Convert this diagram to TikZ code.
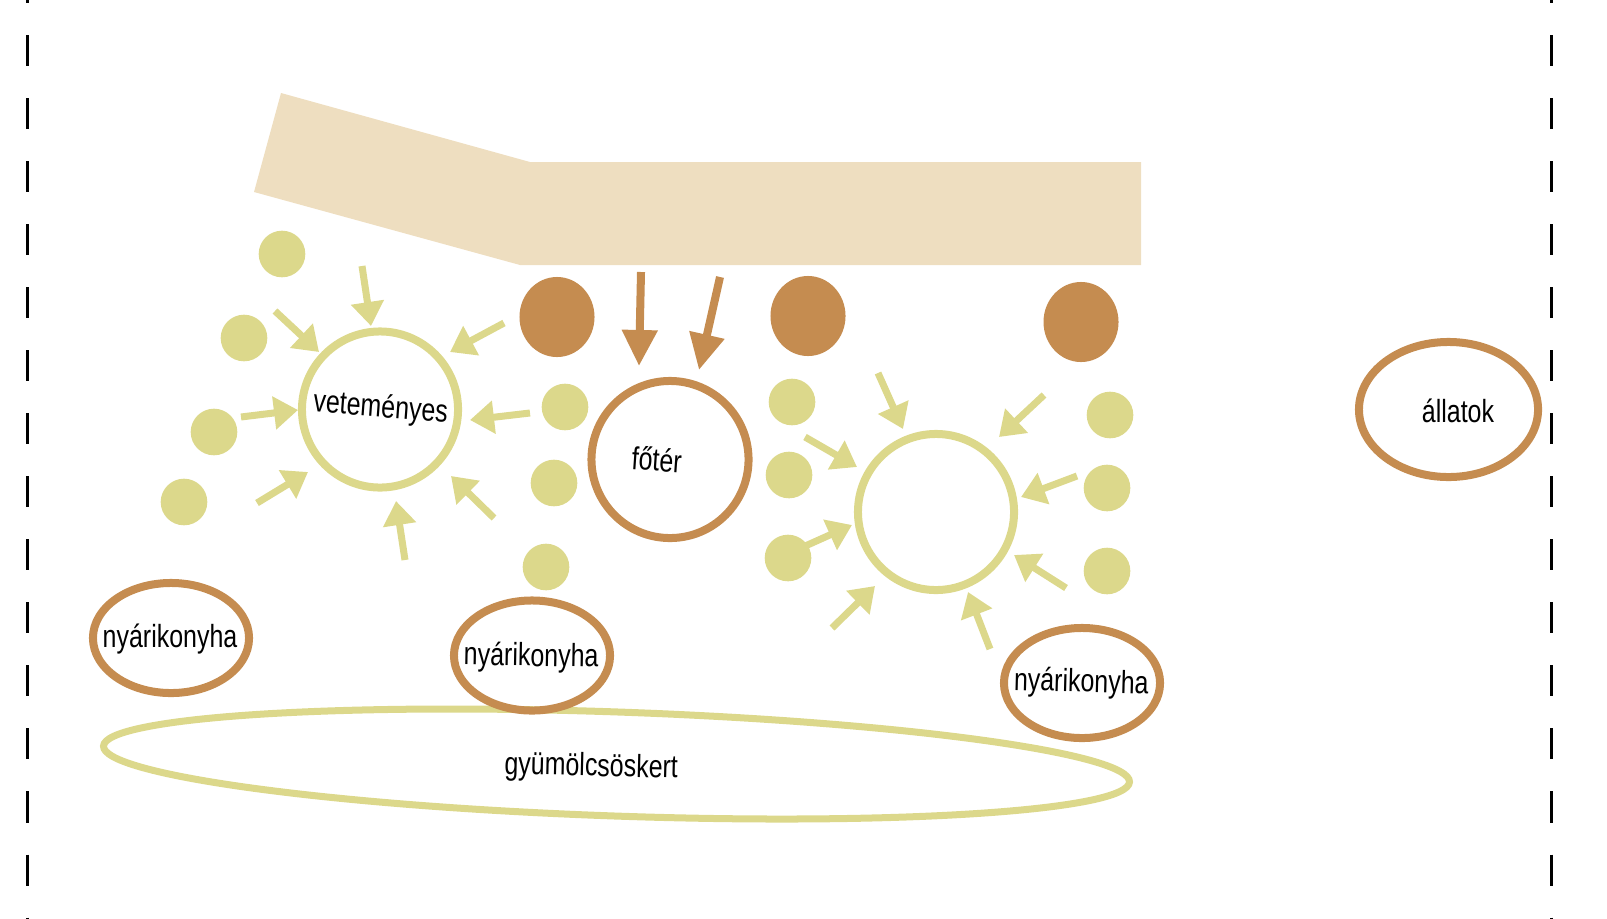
\documentclass[tikz,border=0pt]{standalone}
\usepackage{fontspec}
\setmainfont{Liberation Sans}[FakeStretch=0.78]
\usetikzlibrary{arrows.meta}
\usetikzlibrary{shapes.geometric}

\definecolor{leafgreen}{RGB}{220,216,139}
\definecolor{soilbrown}{RGB}{197,140,80}
\definecolor{roadbeige}{RGB}{238,222,192}

\begin{document}
\begin{tikzpicture}[
    x=0.01cm,
    y=-0.01cm,
    every node/.style={font=\fontsize{9.1pt}{11pt}\selectfont},
    gdot/.style={circle,fill=leafgreen,inner sep=0pt,minimum size=0.466cm},
    bblob/.style={ellipse,fill=soilbrown,inner sep=0pt,minimum width=0.75cm,minimum height=0.80cm},
    greenring/.style={circle,draw=leafgreen,line width=0.08cm,inner sep=0pt,minimum size=1.56cm},
    brownring/.style={circle,draw=soilbrown,line width=0.08cm,inner sep=0pt,minimum size=1.57cm},
    kitchen/.style={ellipse,draw=soilbrown,line width=0.08cm,inner sep=0pt,minimum width=1.56cm,minimum height=1.10cm},
    placename/.style={inner sep=0pt,anchor=base},
    greenarrow/.style={draw=leafgreen,line width=0.07cm,-{Triangle[length=0.24cm,width=0.32cm]}},
    brownarrow/.style={draw=soilbrown,line width=0.08cm,-{Triangle[length=0.36cm,width=0.34cm]}},
    fence/.style={line width=0.025cm,dash pattern=on 0.31cm off 0.32cm}
]

\useasboundingbox (0,0) rectangle (1607,918);

%------------------------------------------------------------
% Coordinates
%------------------------------------------------------------

% arrows towards the vegetable garden
\coordinate (V1s) at (362,266);   \coordinate (V1e) at (371,326);
\coordinate (V2s) at (275,311);   \coordinate (V2e) at (319,352);
\coordinate (V3s) at (241,417);   \coordinate (V3e) at (298,410);
\coordinate (V4s) at (257,503);   \coordinate (V4e) at (308,472);
\coordinate (V5s) at (405,560);   \coordinate (V5e) at (396,501);
\coordinate (V6s) at (494,518);   \coordinate (V6e) at (451,476);
\coordinate (V7s) at (530,413);   \coordinate (V7e) at (470,420);
\coordinate (V8s) at (504,323);   \coordinate (V8e) at (450,352);

% arrows from the road
\coordinate (F1s) at (641,272);   \coordinate (F1e) at (639,366);
\coordinate (F2s) at (720,277);   \coordinate (F2e) at (699,370);

% arrows towards the empty ring
\coordinate (C1s) at (878,373);   \coordinate (C1e) at (903,429);
\coordinate (C2s) at (805,437);   \coordinate (C2e) at (857,467);
\coordinate (C3s) at (803,547);   \coordinate (C3e) at (852,525);
\coordinate (C4s) at (832,628);   \coordinate (C4e) at (875,586);
\coordinate (C5s) at (990,649);   \coordinate (C5e) at (968,592);
\coordinate (C6s) at (1066,588);  \coordinate (C6e) at (1014,555);
\coordinate (C7s) at (1077,476);  \coordinate (C7e) at (1021,497);
\coordinate (C8s) at (1044,395);  \coordinate (C8e) at (999,437);

%------------------------------------------------------------
% Fences
%------------------------------------------------------------

\begin{scope}
\clip (0,0) rectangle (1607,918);

\draw[fence]
(27.7,-28)--(27.7,960);

\draw[fence]
(1551.7,-28)--(1551.7,960);
\end{scope}

%------------------------------------------------------------
% Road
%------------------------------------------------------------

\fill[roadbeige]
(281,93)--(530,162)--(1141,162)--(1141,265)--(520,265)--(254,192)--cycle;

%------------------------------------------------------------
% Orchard
%------------------------------------------------------------

\node[
    ellipse,
    draw=leafgreen,
    line width=0.07cm,
    inner sep=0pt,
    minimum width=10.26cm,
    minimum height=1.04cm,
    rotate=-2
]
(orchard) at (616.5,764) {};

\node[placename,rotate=-1.3]
(orchardtext) at (591,776)
{gyümölcsöskert};

%------------------------------------------------------------
% Rings
%------------------------------------------------------------

\node[greenring] (veg) at (380,409.5) {};

\node[placename,rotate=-4.3]
(vegtext) at (380,417)
{veteményes};

\node[brownring] (square) at (670,459.5) {};

\node[placename,rotate=-4]
(squaretext) at (656,471)
{főtér};

\node[greenring] (empty) at (936,512) {};

%------------------------------------------------------------
% Brown blobs
%------------------------------------------------------------

\node[bblob] (b1) at (557,317) {};
\node[bblob] (b2) at (808,316) {};
\node[bblob] (b3) at (1081,322) {};

%------------------------------------------------------------
% Green dots
%------------------------------------------------------------

% left of the vegetable garden
\node[gdot] (d1) at (282,254) {};
\node[gdot] (d2) at (244,338) {};
\node[gdot] (d3) at (214,432) {};
\node[gdot] (d4) at (184,502) {};

% between the rings
\node[gdot] (d5) at (565,407) {};
\node[gdot] (d6) at (554,483) {};
\node[gdot] (d7) at (546,567) {};

% around the empty ring
\node[gdot] (d8) at (792,402) {};
\node[gdot] (d9) at (789,475) {};
\node[gdot] (d10) at (788,558) {};
\node[gdot] (d11) at (1110,415) {};
\node[gdot] (d12) at (1107,488) {};
\node[gdot] (d13) at (1107,571) {};

%------------------------------------------------------------
% Arrows
%------------------------------------------------------------

\draw[greenarrow] (V1s)--(V1e);
\draw[greenarrow] (V2s)--(V2e);
\draw[greenarrow] (V3s)--(V3e);
\draw[greenarrow] (V4s)--(V4e);
\draw[greenarrow] (V5s)--(V5e);
\draw[greenarrow] (V6s)--(V6e);
\draw[greenarrow] (V7s)--(V7e);
\draw[greenarrow] (V8s)--(V8e);

\draw[brownarrow] (F1s)--(F1e);
\draw[brownarrow] (F2s)--(F2e);

\draw[greenarrow] (C1s)--(C1e);
\draw[greenarrow] (C2s)--(C2e);
\draw[greenarrow] (C3s)--(C3e);
\draw[greenarrow] (C4s)--(C4e);
\draw[greenarrow] (C5s)--(C5e);
\draw[greenarrow] (C6s)--(C6e);
\draw[greenarrow] (C7s)--(C7e);
\draw[greenarrow] (C8s)--(C8e);

%------------------------------------------------------------
% Summer kitchens and animals
%------------------------------------------------------------

\node[kitchen] (k1) at (171,638) {};

\node[placename]
(k1text) at (170,647)
{nyárikonyha};

\node[kitchen] (k2) at (532,655.5) {};

\node[placename,rotate=-1]
(k2text) at (531,666)
{nyárikonyha};

\node[kitchen] (k3) at (1082,683) {};

\node[placename,rotate=-1.5]
(k3text) at (1081,692)
{nyárikonyha};

\node[
    ellipse,
    draw=soilbrown,
    line width=0.08cm,
    inner sep=0pt,
    minimum width=1.79cm,
    minimum height=1.35cm
]
(animals) at (1448.5,409.5) {};

\node[placename]
(animalstext) at (1458,422)
{állatok};

\end{tikzpicture}
\end{document}
